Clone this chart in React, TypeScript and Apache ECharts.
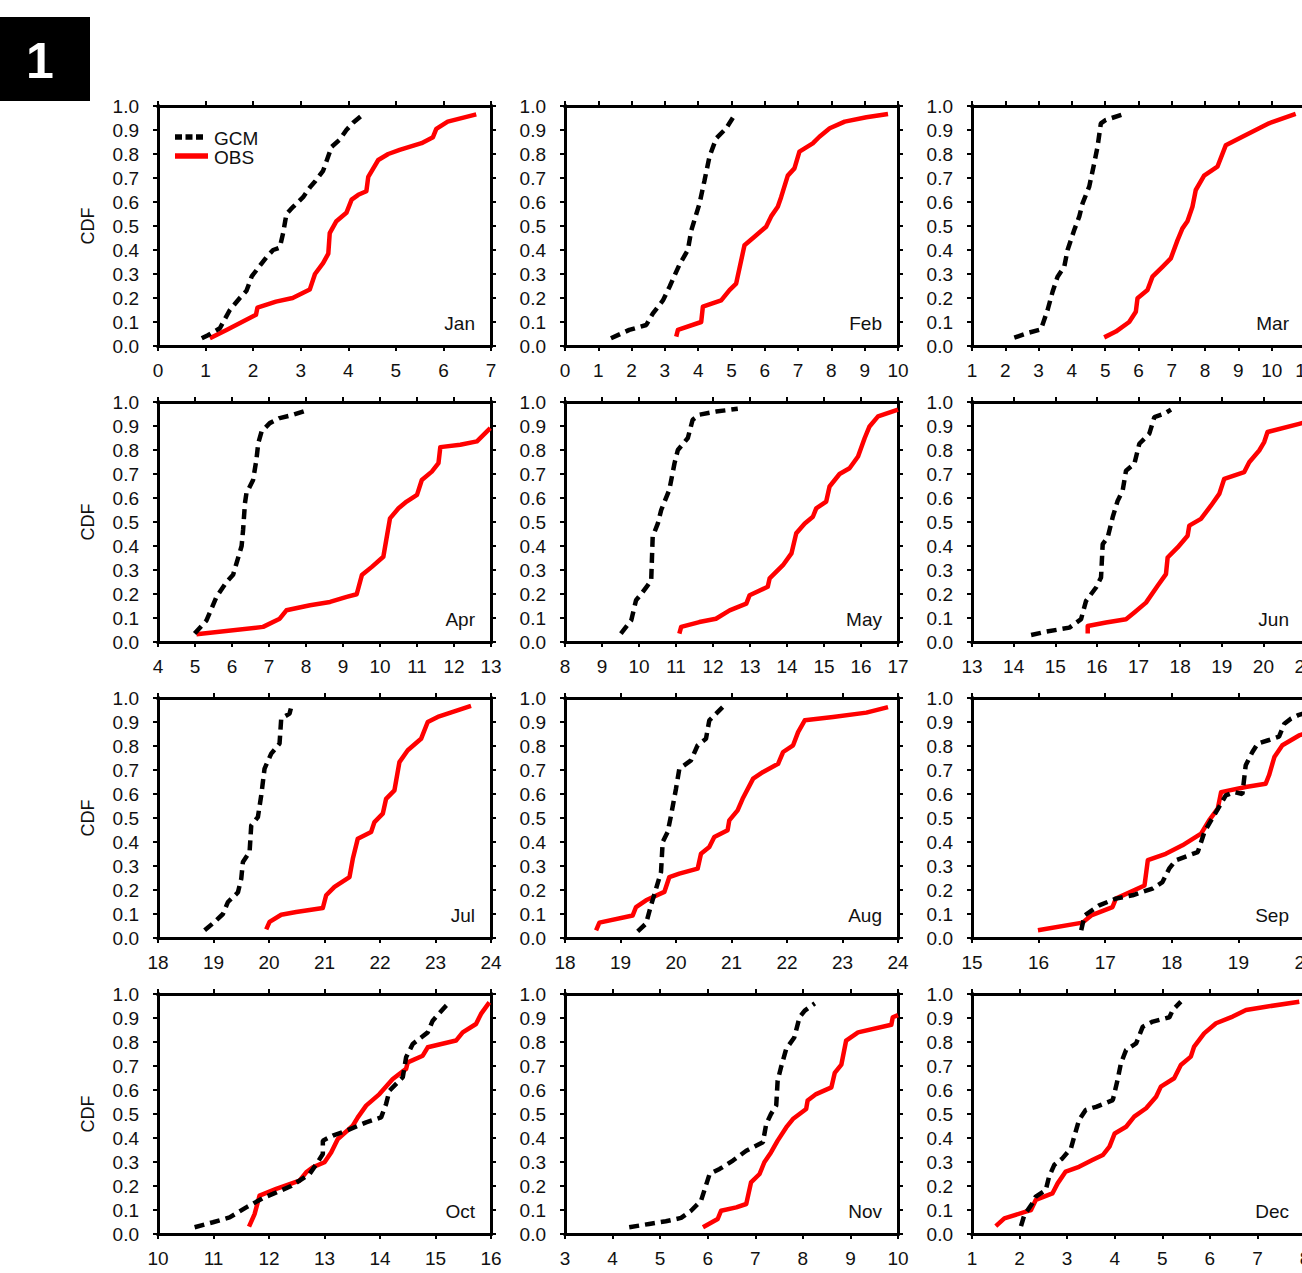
import React, { useEffect, useRef } from "react";
import * as echarts from "echarts";

type Pt = [number, number];

const months = ["Jan", "Feb", "Mar", "Apr", "May", "Jun", "Jul", "Aug", "Sep", "Oct", "Nov", "Dec"];
const xMins = [0, 0, 1, 4, 8, 13, 18, 18, 15, 10, 3, 1];
const xMaxs = [7, 10, 11, 13, 17, 21, 24, 24, 20, 16, 10, 8];
const yMin = 0;
const yMax = 1;
const yStep = 0.1;
const legendNames = ["GCM", "OBS"];
const panelTag = "1";
const yName = "CDF";

const gcmJan: Pt[] = [[0.92,0.032],[1.05,0.045],[1.30,0.074],[1.51,0.15],[1.72,0.20],[1.86,0.23],[1.97,0.29],[2.28,0.37],[2.42,0.40],[2.56,0.41],[2.63,0.47],[2.70,0.55],[2.84,0.58],[3.05,0.62],[3.19,0.66],[3.30,0.685],[3.47,0.73],[3.65,0.83],[3.82,0.86],[3.96,0.90],[4.10,0.93],[4.28,0.96]];
const obsJan: Pt[] = [[1.09,0.032],[1.44,0.067],[2.06,0.13],[2.09,0.16],[2.48,0.185],[2.83,0.20],[3.19,0.235],[3.30,0.30],[3.47,0.345],[3.58,0.385],[3.61,0.47],[3.75,0.52],[3.96,0.555],[4.07,0.61],[4.21,0.63],[4.38,0.645],[4.42,0.705],[4.63,0.775],[4.84,0.80],[5.08,0.817],[5.54,0.845],[5.78,0.87],[5.85,0.905],[6.09,0.935],[6.69,0.965]];

const gcmFeb: Pt[] = [[1.38,0.032],[1.93,0.067],[2.44,0.0875],[2.64,0.136],[2.94,0.19],[3.14,0.247],[3.44,0.34],[3.69,0.40],[3.79,0.48],[4.04,0.594],[4.19,0.69],[4.34,0.79],[4.54,0.865],[4.84,0.907],[5.09,0.962]];
const obsFeb: Pt[] = [[3.34,0.039],[3.39,0.067],[4.09,0.10],[4.14,0.164],[4.69,0.19],[4.94,0.233],[5.14,0.26],[5.39,0.42],[5.69,0.455],[6.04,0.497],[6.19,0.54],[6.39,0.58],[6.49,0.62],[6.69,0.71],[6.89,0.74],[7.04,0.81],[7.44,0.844],[7.64,0.872],[7.95,0.907],[8.40,0.935],[9.05,0.953],[9.70,0.967]];

const gcmMar: Pt[] = [[2.27,0.035],[2.72,0.056],[3.07,0.069],[3.27,0.15],[3.42,0.226],[3.57,0.289],[3.77,0.33],[3.87,0.40],[4.07,0.483],[4.22,0.539],[4.32,0.594],[4.52,0.664],[4.67,0.761],[4.77,0.83],[4.87,0.928],[5.02,0.942],[5.62,0.969]];
const obsMar: Pt[] = [[4.97,0.036],[5.32,0.06],[5.72,0.10],[5.92,0.143],[5.97,0.199],[6.27,0.233],[6.42,0.289],[6.72,0.33],[6.97,0.365],[7.17,0.44],[7.32,0.49],[7.47,0.52],[7.62,0.58],[7.72,0.65],[7.97,0.71],[8.37,0.747],[8.62,0.836],[9.12,0.872],[9.92,0.928],[10.72,0.967]];

const gcmApr: Pt[] = [[4.99,0.035],[5.31,0.09],[5.58,0.188],[5.85,0.25],[6.03,0.28],[6.26,0.40],[6.30,0.467],[6.35,0.578],[6.39,0.62],[6.57,0.675],[6.66,0.76],[6.71,0.829],[6.80,0.877],[7.02,0.912],[7.29,0.933],[7.66,0.947],[8.02,0.965]];
const obsApr: Pt[] = [[5.04,0.032],[6.84,0.063],[7.29,0.097],[7.47,0.132],[8.11,0.153],[8.65,0.167],[9.10,0.188],[9.37,0.199],[9.51,0.279],[9.78,0.313],[10.09,0.355],[10.27,0.515],[10.50,0.557],[10.72,0.585],[11.0,0.613],[11.13,0.675],[11.40,0.71],[11.58,0.745],[11.63,0.812],[12.17,0.822],[12.62,0.836],[12.98,0.891]];

const gcmMay: Pt[] = [[9.51,0.035],[9.79,0.09],[9.92,0.174],[10.06,0.20],[10.24,0.237],[10.33,0.258],[10.37,0.439],[10.51,0.494],[10.60,0.55],[10.82,0.634],[10.96,0.745],[11.05,0.80],[11.32,0.85],[11.45,0.926],[11.63,0.947],[12.08,0.96],[12.67,0.972]];
const obsMay: Pt[] = [[11.09,0.035],[11.14,0.063],[11.63,0.083],[12.08,0.097],[12.45,0.132],[12.90,0.16],[12.99,0.195],[13.48,0.23],[13.53,0.265],[13.89,0.32],[14.12,0.369],[14.25,0.453],[14.48,0.494],[14.70,0.522],[14.79,0.557],[15.06,0.585],[15.15,0.648],[15.42,0.70],[15.69,0.724],[15.92,0.773],[16.10,0.85],[16.23,0.898],[16.46,0.94],[17.0,0.968]];

const gcmJun: Pt[] = [[14.42,0.029],[14.78,0.043],[15.34,0.06],[15.62,0.095],[15.74,0.171],[15.98,0.227],[16.10,0.269],[16.14,0.408],[16.26,0.436],[16.38,0.52],[16.50,0.589],[16.62,0.631],[16.70,0.714],[16.90,0.742],[17.02,0.826],[17.26,0.868],[17.38,0.937],[17.62,0.951],[17.78,0.968]];
const obsJun: Pt[] = [[15.78,0.035],[15.78,0.067],[16.22,0.081],[16.70,0.095],[16.90,0.123],[17.18,0.164],[17.46,0.234],[17.66,0.283],[17.70,0.352],[17.94,0.394],[18.18,0.443],[18.22,0.485],[18.50,0.513],[18.74,0.568],[18.94,0.617],[19.06,0.68],[19.54,0.708],[19.66,0.749],[19.90,0.798],[20.02,0.833],[20.10,0.875],[20.86,0.909],[21.3,0.93]];

const gcmJul: Pt[] = [[18.84,0.032],[19.02,0.067],[19.17,0.10],[19.26,0.15],[19.44,0.19],[19.50,0.247],[19.53,0.317],[19.65,0.358],[19.68,0.469],[19.80,0.504],[19.86,0.594],[19.92,0.706],[20.04,0.768],[20.19,0.81],[20.22,0.914],[20.37,0.935],[20.40,0.962]];
const obsJul: Pt[] = [[19.95,0.036],[20.01,0.067],[20.22,0.097],[20.49,0.108],[20.97,0.125],[21.03,0.178],[21.18,0.213],[21.45,0.254],[21.51,0.33],[21.60,0.414],[21.84,0.442],[21.90,0.483],[22.05,0.518],[22.11,0.58],[22.26,0.615],[22.35,0.733],[22.50,0.782],[22.74,0.83],[22.86,0.90],[23.04,0.921],[23.64,0.967]];

const gcmAug: Pt[] = [[19.31,0.028],[19.46,0.06],[19.55,0.136],[19.64,0.205],[19.73,0.275],[19.76,0.40],[19.85,0.442],[19.91,0.51],[20.00,0.622],[20.06,0.705],[20.27,0.74],[20.39,0.803],[20.54,0.83],[20.60,0.907],[20.84,0.962]];
const obsAug: Pt[] = [[18.56,0.032],[18.62,0.064],[19.22,0.094],[19.28,0.129],[19.46,0.157],[19.79,0.192],[19.88,0.254],[20.06,0.268],[20.39,0.289],[20.45,0.351],[20.60,0.379],[20.69,0.421],[20.93,0.449],[20.96,0.49],[21.11,0.532],[21.20,0.58],[21.39,0.664],[21.57,0.692],[21.84,0.726],[21.93,0.775],[22.11,0.803],[22.20,0.858],[22.32,0.907],[22.83,0.921],[23.43,0.939],[23.82,0.962]];

const gcmSep: Pt[] = [[16.64,0.032],[16.69,0.094],[16.91,0.136],[17.16,0.164],[17.41,0.178],[17.71,0.206],[17.86,0.233],[17.96,0.289],[18.06,0.324],[18.39,0.358],[18.49,0.442],[18.59,0.49],[18.71,0.546],[18.81,0.594],[18.94,0.608],[19.06,0.60],[19.11,0.72],[19.21,0.775],[19.29,0.81],[19.46,0.825],[19.61,0.839],[19.69,0.893],[19.79,0.914],[19.91,0.93],[20.1,0.945]];
const obsSep: Pt[] = [[15.99,0.032],[16.66,0.064],[16.79,0.094],[17.11,0.129],[17.16,0.164],[17.59,0.219],[17.64,0.324],[17.91,0.351],[18.16,0.386],[18.44,0.435],[18.56,0.49],[18.69,0.539],[18.74,0.608],[19.11,0.629],[19.41,0.643],[19.46,0.678],[19.54,0.754],[19.66,0.803],[19.91,0.844],[20.1,0.86]];

const gcmOct: Pt[] = [[10.66,0.028],[10.99,0.049],[11.29,0.069],[11.59,0.111],[11.92,0.153],[12.07,0.167],[12.40,0.20],[12.73,0.25],[12.85,0.29],[12.97,0.333],[12.97,0.389],[13.15,0.41],[13.39,0.43],[13.75,0.465],[14.02,0.486],[14.11,0.542],[14.17,0.597],[14.41,0.653],[14.47,0.736],[14.59,0.792],[14.86,0.84],[14.95,0.889],[15.19,0.951],[15.25,0.965]];
const obsOct: Pt[] = [[11.64,0.031],[11.74,0.083],[11.83,0.16],[12.13,0.188],[12.55,0.222],[12.67,0.257],[12.79,0.278],[13.00,0.299],[13.12,0.34],[13.24,0.396],[13.51,0.451],[13.60,0.486],[13.75,0.535],[13.99,0.583],[14.23,0.646],[14.47,0.688],[14.50,0.715],[14.77,0.743],[14.86,0.778],[15.37,0.806],[15.49,0.84],[15.73,0.875],[15.82,0.917],[15.97,0.965]];

const gcmNov: Pt[] = [[4.35,0.028],[4.77,0.042],[5.12,0.053],[5.44,0.067],[5.65,0.097],[5.86,0.139],[6.04,0.25],[6.25,0.271],[6.53,0.306],[6.81,0.347],[7.16,0.382],[7.23,0.458],[7.33,0.50],[7.44,0.535],[7.47,0.639],[7.54,0.694],[7.65,0.771],[7.82,0.819],[7.93,0.903],[8.04,0.931],[8.25,0.961]];
const obsNov: Pt[] = [[5.90,0.028],[6.21,0.0625],[6.28,0.097],[6.60,0.111],[6.81,0.125],[6.91,0.215],[7.09,0.25],[7.19,0.299],[7.33,0.34],[7.47,0.389],[7.65,0.444],[7.79,0.479],[8.07,0.521],[8.10,0.556],[8.28,0.583],[8.60,0.611],[8.67,0.671],[8.81,0.706],[8.91,0.806],[9.16,0.84],[9.86,0.872],[9.89,0.903],[10.0,0.912]];

const gcmDec: Pt[] = [[2.03,0.033],[2.10,0.079],[2.27,0.128],[2.34,0.156],[2.55,0.183],[2.62,0.239],[2.73,0.288],[2.90,0.315],[3.08,0.357],[3.15,0.406],[3.25,0.475],[3.39,0.517],[3.61,0.53],[3.96,0.558],[4.06,0.642],[4.13,0.711],[4.24,0.767],[4.45,0.794],[4.59,0.864],[4.80,0.885],[5.15,0.903],[5.22,0.933],[5.39,0.968]];
const obsDec: Pt[] = [[1.50,0.033],[1.68,0.065],[2.13,0.093],[2.24,0.10],[2.34,0.142],[2.69,0.169],[2.80,0.211],[2.97,0.26],[3.25,0.28],[3.53,0.308],[3.75,0.329],[3.89,0.364],[4.0,0.419],[4.24,0.447],[4.41,0.489],[4.66,0.524],[4.87,0.572],[4.97,0.614],[5.25,0.649],[5.39,0.704],[5.60,0.739],[5.67,0.781],[5.88,0.836],[6.13,0.878],[6.48,0.906],[6.76,0.933],[7.18,0.947],[7.88,0.968]];

const gcmAll = [gcmJan, gcmFeb, gcmMar, gcmApr, gcmMay, gcmJun, gcmJul, gcmAug, gcmSep, gcmOct, gcmNov, gcmDec];
const obsAll = [obsJan, obsFeb, obsMar, obsApr, obsMay, obsJun, obsJul, obsAug, obsSep, obsOct, obsNov, obsDec];

const COL_LEFT = [158, 565, 972];
const ROW_TOP = [106, 402, 698, 994];
const PW = 333;
const PH = 240;
const FONT = "'Liberation Sans', Arial, Helvetica, sans-serif";
const TXT = "#111";

function buildOption() {
  const grid: any[] = [];
  const xAxis: any[] = [];
  const yAxis: any[] = [];
  const series: any[] = [];
  const graphic: any[] = [];
  const frameLine = { show: true, onZero: false, lineStyle: { color: "#000", width: 3, cap: "square" } };
  const tick = { show: true, inside: false, length: 5, lineStyle: { color: "#000", width: 2 } };

  months.forEach((m, i) => {
    const col = i % 3;
    const row = Math.floor(i / 3);
    const left = COL_LEFT[col];
    const top = ROW_TOP[row];
    grid.push({ left, top, width: PW, height: PH, containLabel: false, show: false });
    const common = { type: "value", min: xMins[i], max: xMaxs[i], interval: 1, gridIndex: i, splitLine: { show: false }, axisLine: frameLine, axisTick: tick };
    xAxis.push({
      ...common,
      position: "bottom",
      axisLabel: { show: true, margin: 15, fontSize: 19, color: TXT, fontFamily: FONT, showMinLabel: true, showMaxLabel: true },
    });
    xAxis.push({ ...common, position: "top", axisLabel: { show: false } });
    const ycommon = { type: "value", min: yMin, max: yMax, interval: yStep, gridIndex: i, splitLine: { show: false }, axisLine: frameLine, axisTick: tick };
    yAxis.push({
      ...ycommon,
      position: "left",
      axisLabel: { show: true, margin: 19, fontSize: 19, color: TXT, fontFamily: FONT, formatter: (v: number) => v.toFixed(1) },
    });
    yAxis.push({ ...ycommon, position: "right", axisLabel: { show: false } });

    series.push({
      name: legendNames[1],
      type: "line",
      xAxisIndex: 2 * i,
      yAxisIndex: 2 * i,
      data: obsAll[i],
      symbol: "none",
      lineStyle: { color: "#ff0000", width: 4.5, join: "round" },
      z: 3,
      silent: true,
    });
    series.push({
      name: legendNames[0],
      type: "line",
      xAxisIndex: 2 * i,
      yAxisIndex: 2 * i,
      data: gcmAll[i],
      symbol: "none",
      lineStyle: { color: "#000", width: 4.5, type: [10, 6] },
      z: 4,
      silent: true,
    });

    graphic.push({
      type: "text",
      x: left + PW - 16,
      y: top + PH - 23,
      style: { text: m, fontSize: 19, fontFamily: FONT, fill: TXT, textAlign: "right", textVerticalAlign: "middle" },
    });
    if (col === 0) {
      graphic.push({
        type: "text",
        x: 88,
        y: top + PH / 2,
        rotation: Math.PI / 2,
        style: { text: yName, fontSize: 18, fontFamily: FONT, fill: TXT, textAlign: "center", textVerticalAlign: "middle" },
      });
    }
  });

  graphic.push({ type: "rect", shape: { x: 0, y: 17, width: 90, height: 84 }, style: { fill: "#000" } });
  graphic.push({
    type: "text",
    x: 40,
    y: 61,
    style: { text: panelTag, fontSize: 50, fontWeight: "bold", fontFamily: FONT, fill: "#fff", textAlign: "center", textVerticalAlign: "middle" },
  });
  // legend in first panel
  graphic.push({ type: "line", shape: { x1: 175, y1: 137, x2: 206, y2: 137 }, style: { stroke: "#000", lineWidth: 5.5, lineDash: [7, 3.5] } });
  graphic.push({
    type: "text",
    x: 214,
    y: 138,
    style: { text: legendNames[0], fontSize: 19, fontFamily: FONT, fill: TXT, textAlign: "left", textVerticalAlign: "middle" },
  });
  graphic.push({ type: "line", shape: { x1: 175, y1: 156, x2: 208, y2: 156 }, style: { stroke: "#ff0000", lineWidth: 5.5 } });
  graphic.push({
    type: "text",
    x: 214,
    y: 157,
    style: { text: legendNames[1], fontSize: 19, fontFamily: FONT, fill: TXT, textAlign: "left", textVerticalAlign: "middle" },
  });

  return {
    animation: false,
    backgroundColor: "#fff",
    grid,
    xAxis,
    yAxis,
    series,
    graphic,
  };
}

export default function App() {
  const ref = useRef<HTMLDivElement>(null);
  useEffect(() => {
    if (!ref.current) return;
    document.body.style.margin = "0";
    document.body.style.overflow = "hidden";
    const chart = echarts.init(ref.current, undefined, { renderer: "svg" });
    chart.setOption(buildOption() as any);
    return () => chart.dispose();
  }, []);
  return <div ref={ref} style={{ position: "absolute", left: 0, top: 0, width: 1340, height: 1273 }} />;
}
